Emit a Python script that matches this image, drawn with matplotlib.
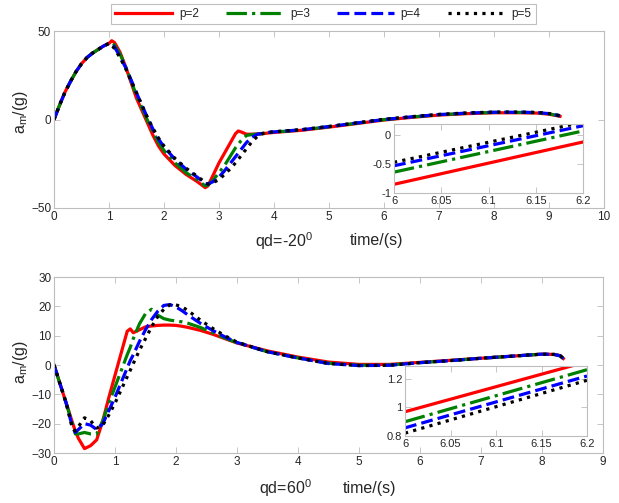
import matplotlib
matplotlib.use("Agg")
import matplotlib.pyplot as plt

plt.rcParams['font.family'] = ['Liberation Sans', 'DejaVu Sans']
plt.rcParams['mathtext.fontset'] = 'custom'
plt.rcParams['mathtext.rm'] = 'Liberation Sans'

labels = ["p=2", "p=3", "p=4", "p=5"]
colors = ["#ff0000", "#008000", "#0000ff", "#000000"]
styles = ["-", "-.", "--", ":"]

# ---- top panel (qd = -20 deg) ----
t_top = [0, 0.1, 0.2, 0.3, 0.4, 0.5, 0.6, 0.7, 0.8, 0.9, 1.0, 1.05, 1.1, 1.2, 1.3, 1.4,
         1.5, 1.6, 1.7, 1.8, 1.9, 2.0, 2.2, 2.4, 2.6, 2.75, 2.8, 2.9, 3.0, 3.1, 3.2, 3.3,
         3.35, 3.4, 3.5, 3.6, 3.7, 3.8, 3.9, 4.0, 4.5, 5.0, 5.5, 6.0, 6.5, 7.0, 7.5, 8.0,
         8.5, 8.8, 9.0, 9.2]
top_p2 = [0, 8, 15.5, 21.5, 27, 31.5, 35, 37.5, 39.5, 41.5, 43, 44.5, 43.5, 38, 30, 21,
          12, 5, -2, -9, -15, -19.5, -26, -31, -35, -38.5, -37.5, -31, -24.5, -19, -13.5, -8,
          -6.5, -7, -8.3, -8.3, -8.2, -8, -7.6, -7.3, -6.1, -4.3, -2.3, -0.3, 1.2, 2.5, 3.3, 3.8,
          3.8, 3.6, 3.0, 1.8]
top_p3 = [0, 8, 15.5, 21.5, 27, 31.5, 35, 37.5, 39.5, 41.5, 43, 43.5, 42, 37, 30, 22,
          13.5, 6.5, -0.5, -7, -13, -17.5, -24.5, -30, -34, -37.5, -37, -34, -30, -26, -21, -16,
          -14, -12, -9, -8.5, -8.2, -8, -7.5, -7.1, -5.9, -4.1, -2.1, -0.1, 1.4, 2.7, 3.5, 4.0,
          4.0, 3.8, 3.2, 2.0]
top_p4 = [0, 8, 15.5, 21.5, 27, 31.5, 35, 37.5, 39.5, 41.5, 43, 42.5, 41, 35.5, 29.5, 22.5,
          15, 8, 1, -5.5, -11, -15.5, -22.5, -28, -32.5, -36, -36.5, -35, -32.5, -29, -25, -21,
          -19, -17, -13, -10, -8.3, -7.8, -7.3, -7, -5.8, -4, -2, 0, 1.5, 2.8, 3.6, 4.1,
          4.1, 3.9, 3.3, 2.1]
top_p5 = [0, 8, 15.5, 21.5, 27, 31.5, 35, 37.5, 39.5, 41.5, 43, 42, 40, 35, 29, 22,
          15, 8, 1, -5, -10.5, -15, -22, -27.5, -32, -35.5, -36.5, -35.5, -34, -31, -28, -24.5,
          -22.5, -20.5, -16.5, -12.5, -9.5, -7.8, -7.2, -6.9, -5.7, -3.9, -1.9, 0.1, 1.6, 2.9, 3.7, 4.2,
          4.2, 4.0, 3.4, 2.2]

# inset (top)
ti = [6.0, 6.2]
top_in_p2 = [-0.85, -0.12]
top_in_p3 = [-0.64, 0.07]
top_in_p4 = [-0.53, 0.16]
top_in_p5 = [-0.47, 0.22]

# ---- bottom panel (qd = 60 deg) ----
t_bot = [0, 0.1, 0.2, 0.3, 0.35, 0.4, 0.5, 0.6, 0.7, 0.8, 0.9, 1.0, 1.1, 1.2, 1.25, 1.3,
         1.4, 1.5, 1.6, 1.7, 1.8, 1.9, 2.0, 2.1, 2.2, 2.4, 2.6, 2.8, 3.0, 3.5, 4.0, 4.5,
         5.0, 5.5, 6.0, 6.5, 7.0, 7.5, 8.0, 8.2, 8.3, 8.35]
bot_p2 = [0, -6.5, -13, -19.5, -22.5, -25, -28.5, -27.5, -25.5, -19, -11, -3.5, 4, 11.5, 12.3, 11,
          12, 13, 13.3, 13.5, 13.6, 13.6, 13.5, 13.2, 12.8, 11.8, 10.5, 9, 7.5, 4.8, 2.7, 1.0,
          0.2, 0.2, 0.9, 1.6, 2.3, 3.0, 3.7, 3.6, 3.2, 2.2]
bot_p3 = [0, -6.5, -13, -20, -23.5, -23.5, -23, -23.5, -23.5, -19, -13, -7.5, -2, 3.5, 6, 9,
          14, 17.5, 19, 17, 15.8, 15.3, 15, 14.7, 14.2, 12.8, 11, 9.2, 7.6, 4.5, 2.4, 0.6,
          -0.1, 0.0, 0.8, 1.5, 2.3, 3.0, 3.7, 3.6, 3.1, 2.2]
bot_p4 = [0, -6.5, -13, -21, -23, -22, -20, -20.5, -22, -20, -15.5, -11, -6, -1, 1.5, 3.5,
          8, 12, 15.5, 18.3, 20.3, 20.6, 19.8, 18.5, 17, 14.2, 11.8, 9.6, 7.7, 4.5, 2.4, 0.5,
          -0.2, -0.1, 0.8, 1.5, 2.3, 3.0, 3.7, 3.6, 3.1, 2.2]
bot_p5 = [0, -6.5, -13, -21.5, -22.5, -21, -18, -19, -21.5, -20.5, -17, -13, -8.5, -4, -1.8, 0.5,
          5, 9, 13, 16.5, 19, 20.5, 20.5, 19.8, 18.5, 15.3, 12.5, 10, 7.8, 4.5, 2.4, 0.5,
          -0.2, -0.1, 0.8, 1.5, 2.3, 3.0, 3.7, 3.6, 3.1, 2.2]

bot_in_p2 = [0.97, 1.32]
bot_in_p3 = [0.90, 1.264]
bot_in_p4 = [0.857, 1.22]
bot_in_p5 = [0.82, 1.19]

W, H = 619, 503
fig = plt.figure(figsize=(W / 100, H / 100), dpi=100)

def ax_at(x0, y0, x1, y1):
    return fig.add_axes([x0 / W, 1 - y1 / H, (x1 - x0) / W, (y1 - y0) / H])

spine_c = "#bdbdbd"
txt_c = "#262626"

def style(ax, fs=8.5):
    for s in ax.spines.values():
        s.set_color(spine_c)
        s.set_linewidth(0.8)
    ax.tick_params(direction="in", top=True, right=True, length=4, width=0.6,
                   color=spine_c, labelsize=fs, labelcolor=txt_c, pad=2)

lw = 2.3
ax1 = ax_at(54, 31, 604, 208)
lines = []
for y, c, ls, lb in zip([top_p2, top_p3, top_p4, top_p5], colors, styles, labels):
    ln, = ax1.plot(t_top, y, color=c, ls=ls, lw=lw, label=lb)
    lines.append(ln)
ax1.set_xlim(0, 10)
ax1.set_ylim(-50, 50)
ax1.set_xticks(range(0, 11))
ax1.set_yticks([-50, 0, 50])
style(ax1)

ins1 = ax_at(394, 124, 583, 193)
for y, c, ls in zip([top_in_p2, top_in_p3, top_in_p4, top_in_p5], colors, styles):
    ins1.plot(ti, y, color=c, ls=ls, lw=lw)
ins1.set_xlim(6, 6.2)
ins1.set_ylim(-1, 0.19)
ins1.set_xticks([6, 6.05, 6.1, 6.15, 6.2])
ins1.set_xticklabels(["6", "6.05", "6.1", "6.15", "6.2"])
ins1.set_yticks([-1, -0.5, 0])
ins1.set_yticklabels(["-1", "-0.5", "0"])
style(ins1, 8)

ax2 = ax_at(54, 277, 603, 453)
for y, c, ls in zip([bot_p2, bot_p3, bot_p4, bot_p5], colors, styles):
    ax2.plot(t_bot, y, color=c, ls=ls, lw=lw)
ax2.set_xlim(0, 9)
ax2.set_ylim(-30, 30)
ax2.set_xticks(range(0, 10))
ax2.set_yticks(range(-30, 31, 10))
style(ax2)

ins2 = ax_at(405, 366, 587, 436)
for y, c, ls in zip([bot_in_p2, bot_in_p3, bot_in_p4, bot_in_p5], colors, styles):
    ins2.plot(ti, y, color=c, ls=ls, lw=lw)
ins2.set_xlim(6, 6.2)
ins2.set_ylim(0.8, 1.29)
ins2.set_xticks([6, 6.05, 6.1, 6.15, 6.2])
ins2.set_xticklabels(["6", "6.05", "6.1", "6.15", "6.2"])
ins2.set_yticks([0.8, 1.0, 1.2])
ins2.set_yticklabels(["0.8", "1", "1.2"])
style(ins2, 8)

# axis labels
fs_lab = 11.5
fig.text(20 / W, 1 - 112 / H, r"a$_\mathregular{m}$/(g)", rotation=90, ha="center",
         va="center", fontsize=fs_lab, color=txt_c)
fig.text(20 / W, 1 - 362 / H, r"a$_\mathregular{m}$/(g)", rotation=90, ha="center",
         va="center", fontsize=fs_lab, color=txt_c)
fig.text(255 / W, 1 - 241 / H, r"qd=-20$^\mathregular{0}$", ha="left", va="center",
         fontsize=fs_lab, color=txt_c)
fig.text(350 / W, 1 - 241 / H, "time/(s)", ha="left", va="center", fontsize=fs_lab, color=txt_c)
fig.text(259 / W, 1 - 488 / H, r"qd=60$^\mathregular{0}$", ha="left", va="center",
         fontsize=fs_lab, color=txt_c)
fig.text(343 / W, 1 - 488 / H, "time/(s)", ha="left", va="center", fontsize=fs_lab, color=txt_c)

leg = fig.legend(handles=lines, labels=labels, ncol=4, loc="center",
                 bbox_to_anchor=(323.5 / W, 1 - 14 / H), fontsize=8.5, frameon=True,
                 fancybox=False, edgecolor="#b0b0b0", handlelength=4.8, columnspacing=2.3,
                 handletextpad=0.6, borderpad=0.35, labelcolor=txt_c)
leg.get_frame().set_linewidth(0.8)

fig.savefig("out.png", dpi=100, facecolor="white")
